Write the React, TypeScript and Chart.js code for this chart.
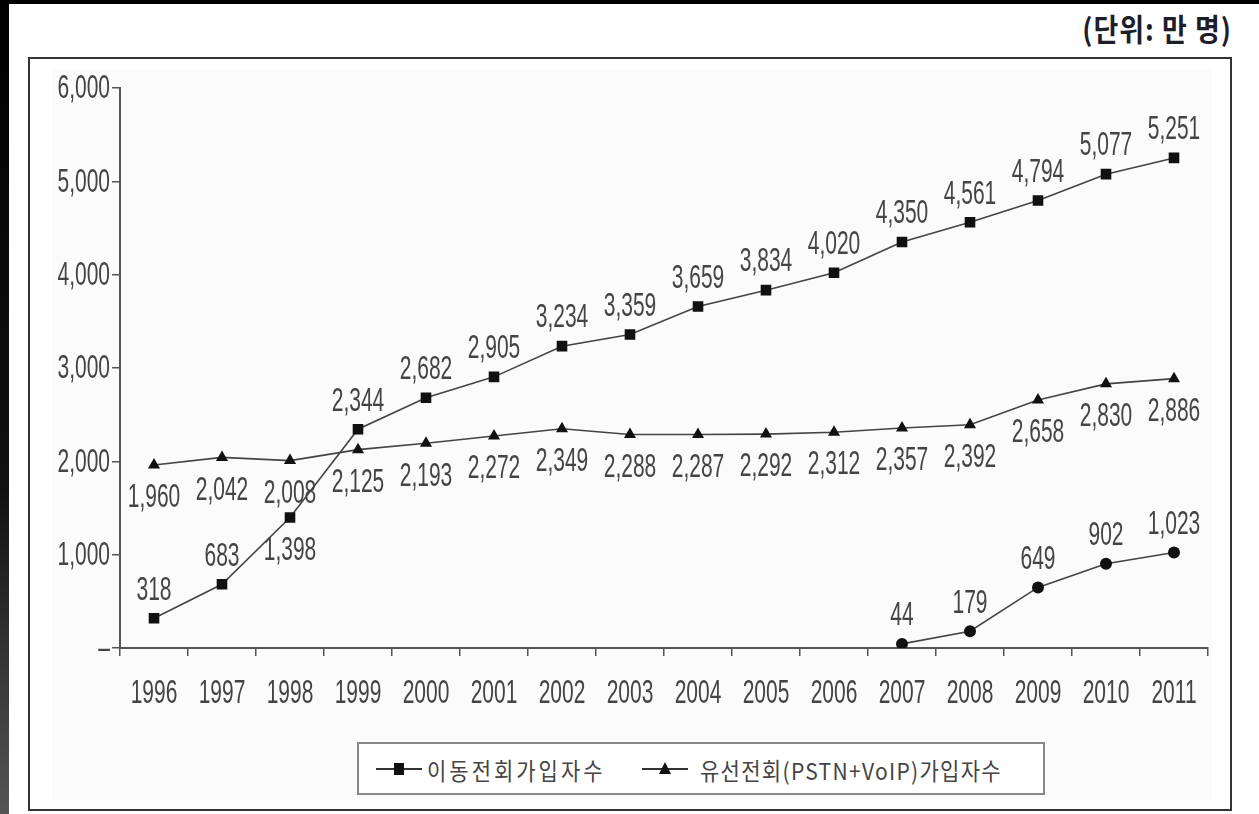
import React, { useEffect, useRef } from "react";
import { Chart, registerables } from "chart.js";

Chart.register(...registerables);

// Years on the category axis
const years = [
  "1996", "1997", "1998", "1999", "2000", "2001", "2002", "2003",
  "2004", "2005", "2006", "2007", "2008", "2009", "2010", "2011",
];

// 이동전회가입자수 (mobile subscribers, 만 명)
const mobile = [318, 683, 1398, 2344, 2682, 2905, 3234, 3359, 3659, 3834, 4020, 4350, 4561, 4794, 5077, 5251];

// 유선전회(PSTN+VoIP)가입자수 (wired subscribers, 만 명)
const wired = [1960, 2042, 2008, 2125, 2193, 2272, 2349, 2288, 2287, 2292, 2312, 2357, 2392, 2658, 2830, 2886];

// VoIP subscribers from 2007 on (unlabelled series)
const voip = [null, null, null, null, null, null, null, null, null, null, null, 44, 179, 649, 902, 1023];

// Where each value label sits relative to its point
const mobileLabelPos = ["above", "above", "below", "above", "above", "above", "above", "above", "above", "above", "above", "above", "above", "above", "above", "above"];
const wiredLabelPos = years.map(() => "below");
const voipLabelPos = years.map(() => "above");

const yTicks = [0, 1000, 2000, 3000, 4000, 5000, 6000];

const legendLabels = ["이동전회가입자수", "유선전회(PSTN+VoIP)가입자수"];

const NUM_FONT = "'Liberation Sans', Arial, sans-serif";
const TEXT = "#444";
// Numbers are set in a tall, narrow face: draw them with a vertical stretch
const V_STRETCH = 1.6;

const fmt = (v: number) => v.toLocaleString("en-US");

function tallText(ctx: CanvasRenderingContext2D, text: string, x: number, y: number, align: CanvasTextAlign, size: number) {
  ctx.save();
  ctx.translate(x, y);
  ctx.scale(1, V_STRETCH);
  ctx.font = `${size}px ${NUM_FONT}`;
  ctx.fillStyle = TEXT;
  ctx.textAlign = align;
  ctx.textBaseline = "middle";
  ctx.fillText(text, 0, 0);
  ctx.restore();
}

const tallAxisLabels = {
  id: "tallAxisLabels",
  afterDraw(chart: any) {
    const ctx = chart.ctx;
    const xs = chart.scales.x;
    const ys = chart.scales.y;
    xs.ticks.forEach((t: any, i: number) => {
      tallText(ctx, xs.getLabelForValue(t.value), xs.getPixelForTick(i), xs.bottom - xs.height + 46, "center", 21);
    });
    ys.ticks.forEach((t: any) => {
      const v = Number(t.value);
      const label = v === 0 ? "–" : fmt(v);
      tallText(ctx, label, ys.right - 10, ys.getPixelForValue(v) + 1, "right", 21);
    });
  },
};

const valueLabels = {
  id: "valueLabels",
  afterDatasetsDraw(chart: any) {
    const ctx = chart.ctx;
    chart.data.datasets.forEach((ds: any, i: number) => {
      const meta = chart.getDatasetMeta(i);
      meta.data.forEach((pt: any, j: number) => {
        const v = ds.data[j];
        if (v == null) return;
        const pos = ds.labelPos[j];
        const dy = pos === "above" ? -28 : 33;
        tallText(ctx, fmt(v), pt.x, pt.y + dy, "center", 21);
      });
    });
  },
};

function LegendMark({ shape, left }: { shape: "rect" | "triangle"; left: number }) {
  return (
    <span style={{ position: "absolute", left, top: 14, width: 46, height: 20 }}>
      <span style={{ position: "absolute", left: 0, right: 0, top: 10, height: 2, background: "#333" }} />
      {shape === "rect" ? (
        <span style={{ position: "absolute", left: 18, top: 5, width: 10, height: 12, background: "#111" }} />
      ) : (
        <span
          style={{
            position: "absolute",
            left: 17,
            top: 4,
            width: 0,
            height: 0,
            borderLeft: "6px solid transparent",
            borderRight: "6px solid transparent",
            borderBottom: "12px solid #111",
          }}
        />
      )}
    </span>
  );
}

export default function App() {
  const canvasRef = useRef<HTMLCanvasElement | null>(null);

  useEffect(() => {
    const canvas = canvasRef.current;
    if (!canvas) return;
    const chart = new Chart(canvas, {
      type: "line",
      data: {
        labels: years,
        datasets: [
          {
            label: legendLabels[0],
            data: mobile,
            borderColor: "#444",
            borderWidth: 1.6,
            pointStyle: "rect",
            pointRadius: 7.5,
            pointBackgroundColor: "#111",
            pointBorderColor: "#111",
            pointBorderWidth: 0,
            tension: 0,
            labelPos: mobileLabelPos,
          } as any,
          {
            label: legendLabels[1],
            data: wired,
            borderColor: "#444",
            borderWidth: 1.6,
            pointStyle: "triangle",
            pointRadius: 7,
            pointBackgroundColor: "#111",
            pointBorderColor: "#111",
            pointBorderWidth: 0,
            tension: 0,
            labelPos: wiredLabelPos,
          } as any,
          {
            label: "VoIP",
            data: voip,
            borderColor: "#444",
            borderWidth: 1.6,
            pointStyle: "circle",
            pointRadius: 6,
            pointBackgroundColor: "#111",
            pointBorderColor: "#111",
            pointBorderWidth: 0,
            tension: 0,
            spanGaps: false,
            labelPos: voipLabelPos,
          } as any,
        ],
      },
      options: {
        animation: false,
        responsive: false,
        maintainAspectRatio: false,
        layout: { padding: { top: 28, right: 22, bottom: 0, left: 0 } },
        plugins: {
          legend: { display: false },
          tooltip: { enabled: false },
          title: { display: false },
        },
        scales: {
          x: {
            type: "category",
            offset: true,
            grid: {
              offset: true,
              drawOnChartArea: false,
              drawTicks: true,
              tickLength: 8,
              color: "#555",
              lineWidth: 1.5,
            },
            border: { display: true, color: "#555", width: 2 },
            ticks: { display: false, autoSkip: false },
            afterFit(scale: any) {
              scale.height = 92;
            },
          },
          y: {
            min: 0,
            max: 6000,
            afterBuildTicks(scale: any) {
              scale.ticks = yTicks.map((v) => ({ value: v }));
            },
            grid: {
              drawOnChartArea: false,
              drawTicks: true,
              tickLength: 8,
              color: "#555",
              lineWidth: 1.5,
            },
            border: { display: true, color: "#555", width: 2 },
            ticks: { display: false },
            afterFit(scale: any) {
              scale.width = 90;
            },
          },
        },
      },
      plugins: [valueLabels, tallAxisLabels],
    });
    return () => chart.destroy();
  }, []);

  const legendText = {
    position: "absolute" as const,
    top: 11,
    display: "inline-block",
    transform: "scaleY(1.12)",
    whiteSpace: "nowrap" as const,
  };

  return (
    <div
      style={{
        position: "absolute",
        left: 0,
        top: 0,
        width: 1259,
        height: 814,
        background: "#fff",
        overflow: "hidden",
      }}
    >
      {/* dark edges around the page */}
      <div style={{ position: "absolute", left: 0, top: 0, width: 1259, height: 4, background: "#000" }} />
      <div
        style={{
          position: "absolute",
          left: 0,
          top: 0,
          width: 9,
          height: 814,
          background: "linear-gradient(to bottom, #000 0%, #111 60%, #555 100%)",
        }}
      />
      {/* unit caption */}
      <div
        style={{
          position: "absolute",
          right: 27,
          top: 6,
          fontFamily: "'Noto Sans CJK KR', sans-serif",
          fontWeight: 700,
          fontSize: 27,
          color: "#1e1e2a",
          letterSpacing: 1,
          transform: "scaleY(1.12)",
          transformOrigin: "top right",
        }}
      >
        (단위: 만 명)
      </div>
      {/* outer frame */}
      <div
        style={{
          position: "absolute",
          left: 28,
          top: 57,
          width: 1200,
          height: 750,
          border: "2px solid #333",
          background: "#fff",
        }}
      />
      <div
        style={{
          position: "absolute",
          left: 52,
          top: 70,
          width: 1160,
          height: 730,
          background: "#fbfbfb",
        }}
      />
      <canvas
        ref={canvasRef}
        width={1200}
        height={680}
        style={{ position: "absolute", left: 30, top: 60, width: 1200, height: 680 }}
      />
      {/* legend */}
      <div
        style={{
          position: "absolute",
          left: 357,
          top: 742,
          width: 688,
          height: 53,
          border: "2px solid #888",
          background: "#fff",
          boxSizing: "border-box",
          fontFamily: "'Noto Sans CJK KR', sans-serif",
          fontSize: 21,
          color: TEXT,
        }}
      >
        <LegendMark shape="rect" left={17} />
        <span style={{ ...legendText, left: 68, letterSpacing: 3 }}>{legendLabels[0]}</span>
        <LegendMark shape="triangle" left={283} />
        <span style={{ ...legendText, left: 341, letterSpacing: 1.3 }}>{legendLabels[1]}</span>
      </div>
    </div>
  );
}
